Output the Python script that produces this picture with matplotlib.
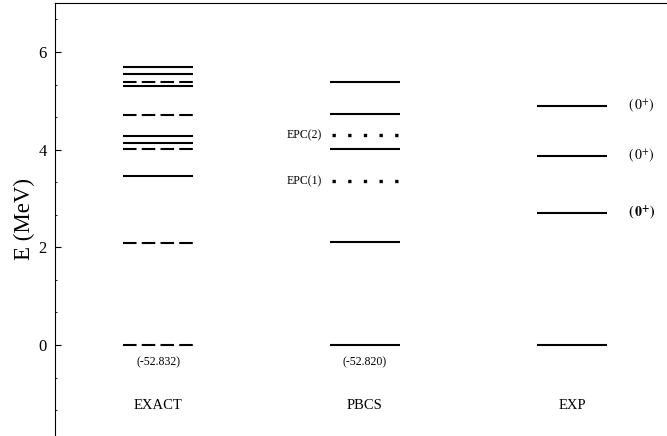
import matplotlib
matplotlib.use("Agg")
import matplotlib.pyplot as plt
from matplotlib.ticker import MultipleLocator, AutoMinorLocator

plt.rcParams['font.family'] = ['Liberation Serif', 'DejaVu Serif']
plt.rcParams['mathtext.fontset'] = 'stix'

# niveles de energia (MeV)
columnas = ['EXACT', 'PBCS', 'EXP']
exact_solidos = [5.70, 5.55, 5.31, 4.27, 4.14, 3.47]
exact_trazos = [5.38, 4.71, 4.02, 2.09, 0.0]
pbcs_solidos = [5.38, 4.72, 4.02, 2.11, 0.0]
pbcs_epc = [4.30, 3.35]
epc_etiquetas = ['EPC(2)', 'EPC(1)']
exp_niveles = [4.90, 3.88, 2.70, 0.0]
exp_espines = [4.90, 3.88, 2.70]
energia_base = ['(-52.832)', '(-52.820)']

fig = plt.figure(figsize=(6.67, 4.36), dpi=100)
ax = fig.add_axes([55 / 667, 0, 1 - 55 / 667, 1 - 3 / 436])

media = 0.17
lw = 1.5

# EXACT
ax.hlines(exact_solidos, 0 - media, 0 + media, color='black', lw=lw)
ax.hlines(exact_trazos, 0 - media, 0 + media, color='black', lw=lw,
          linestyles=[(0, (6.5, 2.5))])

# PBCS
ax.hlines(pbcs_solidos, 1 - media, 1 + media, color='black', lw=lw)
ax.hlines(pbcs_epc, 1 - media + 0.01, 1 + media - 0.01, color='black', lw=2.4,
          linestyles=[(0, (1, 3.7))])
for e, t in zip(pbcs_epc, epc_etiquetas):
    ax.text(1 - media - 0.04, e, t, ha='right', va='center', fontsize=8.5)

# EXP
ax.hlines(exp_niveles, 2 - media, 2 + media, color='black', lw=lw)
for i, e in enumerate(exp_espines):
    if i == len(exp_espines) - 1:
        txt = r'$\mathbf{(\,0^{+})}$'
    else:
        txt = r'$(\,0^{+})$'
    ax.text(2 + media + 0.1, e, txt, ha='left', va='center', fontsize=10)

# etiquetas de columna y energia del fundamental
for i, c in enumerate(columnas):
    ax.text(i, -1.23, c, ha='center', va='center', fontsize=10.5)
for i, t in enumerate(energia_base):
    ax.text(i, -0.36, t, ha='center', va='center', fontsize=8.5)

ax.set_xlim(-0.4976, 2.459)
ax.set_ylim(-1.864, 7.003)
ax.set_xticks([])
ax.yaxis.set_major_locator(MultipleLocator(2))
ax.yaxis.set_minor_locator(AutoMinorLocator(3))
ax.tick_params(axis='y', which='major', direction='in', length=4, pad=6, labelsize=12)
ax.tick_params(axis='y', which='minor', direction='in', length=1.5)
ax.spines['right'].set_visible(False)
ax.spines['bottom'].set_visible(False)
ax.set_ylabel('E (MeV)', fontsize=16.5, labelpad=2)

fig.savefig('out.png', dpi=100)
